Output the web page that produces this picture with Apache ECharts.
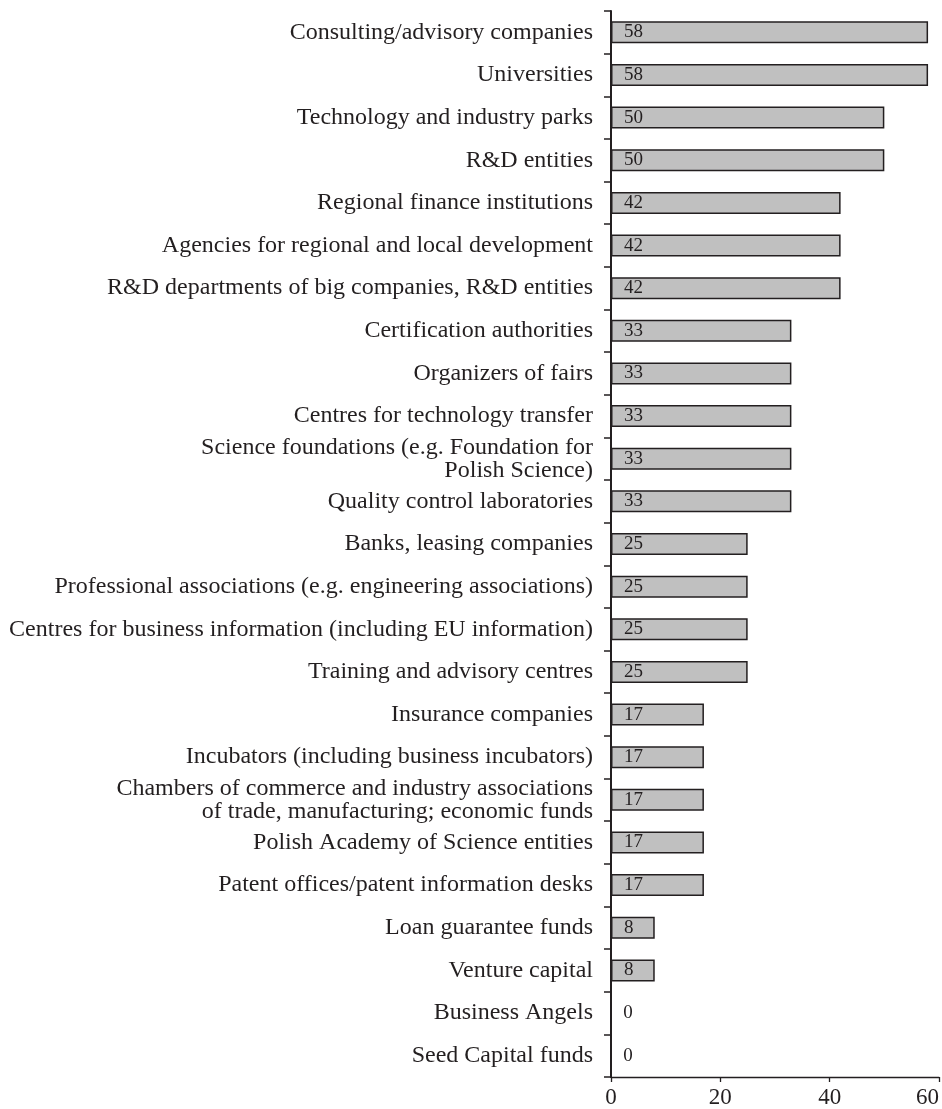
<!DOCTYPE html>
<html>
<head>
<meta charset="utf-8">
<style>
  html, body { margin: 0; padding: 0; background: #ffffff; }
  #chart { width: 942px; height: 1109px; }
</style>
<script src="https://cdn.jsdelivr.net/npm/echarts@6/dist/echarts.min.js"></script>
</head>
<body>
<div id="chart"></div>
<script>
// Institutions, listed top to bottom
const categories = [
  'Consulting/advisory companies',
  'Universities',
  'Technology and industry parks',
  'R&D entities',
  'Regional finance institutions',
  'Agencies for regional and local development',
  'R&D departments of big companies, R&D entities',
  'Certification authorities',
  'Organizers of fairs',
  'Centres for technology transfer',
  'Science foundations (e.g. Foundation for\nPolish Science)',
  'Quality control laboratories',
  'Banks, leasing companies',
  'Professional associations (e.g. engineering associations)',
  'Centres for business information (including EU information)',
  'Training and advisory centres',
  'Insurance companies',
  'Incubators (including business incubators)',
  'Chambers of commerce and industry associations\nof trade, manufacturing; economic funds',
  'Polish Academy of Science entities',
  'Patent offices/patent information desks',
  'Loan guarantee funds',
  'Venture capital',
  'Business Angels',
  'Seed Capital funds'
];

// Share of responses (%)
const values = [58, 58, 50, 50, 42, 42, 42, 33, 33, 33, 33, 33, 25, 25, 25, 25, 17, 17, 17, 17, 17, 8, 8, 0, 0];

// Value axis ticks
const axisMin = 0;
const axisMax = 60;
const axisStep = 20;

const serif = "'Liberation Serif', 'DejaVu Serif', serif";
const ink = '#231f20';

const chart = echarts.init(document.getElementById('chart'), null, { renderer: 'canvas' });

chart.setOption({
  animation: false,
  backgroundColor: '#ffffff',
  grid: { left: 611, right: 2, top: 11, bottom: 27, containLabel: false },
  xAxis: {
    type: 'value',
    min: axisMin,
    max: axisMax,
    interval: axisStep,
    splitLine: { show: false },
    axisLine: { show: true, lineStyle: { color: ink, width: 1.3 } },
    axisTick: { show: true, length: 5, lineStyle: { color: ink, width: 1.3 } },
    axisLabel: {
      color: ink, fontFamily: serif, fontSize: 23, margin: 9,
      alignMaxLabel: 'right'
    }
  },
  yAxis: {
    type: 'category',
    data: categories,
    inverse: true,
    axisLine: { show: true, lineStyle: { color: ink, width: 2 } },
    axisTick: { show: true, length: 7, lineStyle: { color: ink, width: 1.5 } },
    axisLabel: {
      color: ink, fontFamily: serif, fontSize: 24, lineHeight: 23,
      margin: 18, align: 'right', interval: 0
    }
  },
  series: [{
    type: 'bar',
    data: values,
    barWidth: 22,
    itemStyle: { color: '#c0c0c0', borderColor: ink, borderWidth: 1.5 },
    label: {
      show: true,
      position: 'insideLeft',
      distance: 13,
      color: ink,
      fontFamily: serif,
      fontSize: 19
    }
  }]
});
</script>
</body>
</html>
